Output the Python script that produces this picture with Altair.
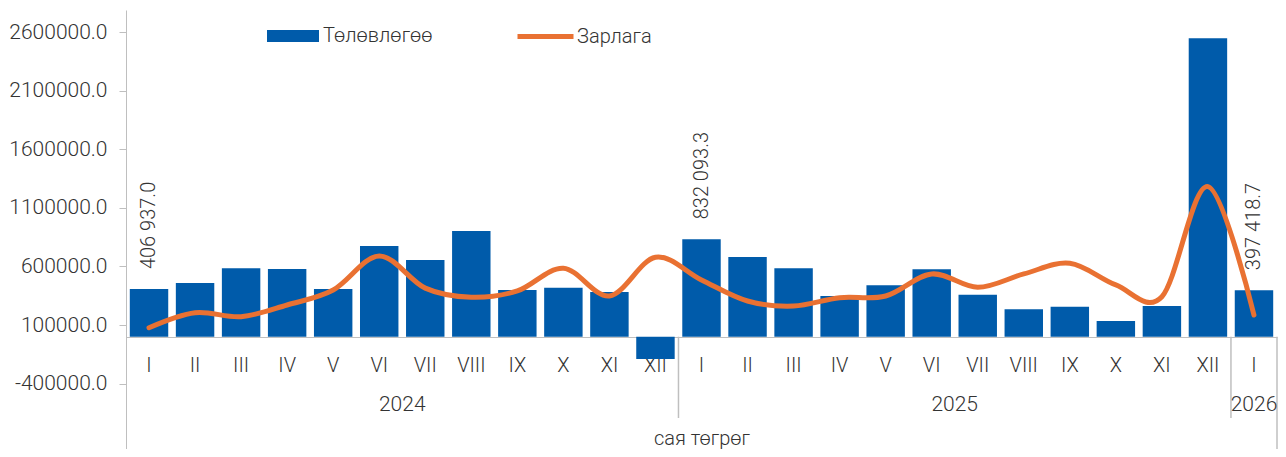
import altair as alt
import pandas as pd

# ---- data ----
years = ["2024"] * 12 + ["2025"] * 12 + ["2026"]
months = ["I", "II", "III", "IV", "V", "VI", "VII", "VIII", "IX", "X", "XI", "XII"] * 2 + ["I"]
plan = [406937.0, 459000, 584000, 579000, 408000, 775000, 656000, 903000, 399000, 419000, 382000, -191000,
        832093.3, 681000, 584000, 348000, 439000, 576000, 359000, 234000, 256000, 134000, 262000, 2550000,
        397418.7]
spend = [77000, 205000, 171000, 271000, 399000, 690000, 415000, 337000, 391000, 585000, 348000, 679000,
         485000, 305000, 262000, 333000, 348000, 536000, 422000, 536000, 627000, 442000, 342000, 1282000,
         185000]
labeled = [True] + [False] * 11 + [True] + [False] * 11 + [True]
series_names = ["Төлөвлөгөө", "Зарлага"]
y_ticks = [-400000, 100000, 600000, 1100000, 1600000, 2100000, 2600000]
year_names = ["2024", "2025", "2026"]
months_per_year = [12, 12, 1]
unit_title = "сая төгрөг"

# ---- styling ----
BLUE = "#005BAA"
ORANGE = "#E97132"
GRID = "#BFBFBF"
TEXT = "#333333"
FONT = "Roboto"
FW = 300
W, H = 1151, 439

keys = [f"{y}-{m}" for y, m in zip(years, months)]
df = pd.DataFrame({"key": keys, "month": months, "plan": plan, "spend": spend, "lab": labeled})
df["s1"] = series_names[0]
df["s2"] = series_names[1]

# year-level positions derived from months per year
starts, acc = [], 0
for n in months_per_year:
    starts.append(acc)
    acc += n
total = acc
year_df = pd.DataFrame({"c": [s + n / 2 for s, n in zip(starts, months_per_year)], "year": year_names})
sep_df = pd.DataFrame({"c": starts[1:]})
end_df = pd.DataFrame({"c": [total]})

yscale = alt.Scale(domain=[-959100, 2790470], nice=False, zero=False)
yaxis = alt.Axis(values=y_ticks, title=None, grid=False,
                 labelExpr="(datum.value < 0 ? '-' : '') + format(abs(datum.value), '.1f')",
                 tickSize=7, tickColor=GRID, domainColor=GRID, labelPadding=12,
                 labelFontSize=21, labelColor=TEXT, labelFont=FONT, labelFontWeight=FW)

xband = alt.X("key:N", sort=keys,
              scale=alt.Scale(paddingInner=0.165, paddingOuter=0.0825),
              axis=alt.Axis(title=None, labelExpr="split(datum.value, '-')[1]", labelAngle=0,
                            ticks=False, tickSize=0, domainColor=GRID, labelPadding=28,
                            labelBaseline="middle", labelOverlap=False, offset=-112,
                            labelFontSize=20, labelColor=TEXT, labelFont=FONT, labelFontWeight=FW))

base = alt.Chart(df)

bars = base.mark_bar().encode(
    x=xband,
    y=alt.Y("plan:Q", scale=yscale, axis=yaxis),
    fill=alt.Fill("s1:N", scale=alt.Scale(domain=[series_names[0]], range=[BLUE]),
                  legend=alt.Legend(title=None, orient="none", legendX=141, legendY=0,
                                    symbolType="M-1,-0.23H1V0.23H-1Z", symbolSize=2704,
                                    symbolStrokeWidth=0, labelOffset=4, labelFontSize=20,
                                    labelColor=TEXT, labelFont=FONT, labelFontWeight=FW)),
)

line = base.mark_line(interpolate="cardinal", strokeWidth=5, strokeCap="round").encode(
    x=xband,
    y=alt.Y("spend:Q", scale=yscale),
    stroke=alt.Stroke("s2:N", scale=alt.Scale(domain=[series_names[1]], range=[ORANGE]),
                      legend=alt.Legend(title=None, orient="none", legendX=389, legendY=-4,
                                        symbolType="stroke", symbolSize=3136, symbolStrokeWidth=5,
                                        labelOffset=1, labelFontSize=20, labelColor=TEXT,
                                        labelFont=FONT, labelFontWeight=FW)),
)

labels = base.transform_filter("datum.lab").transform_calculate(
    lbl="replace(format(datum.plan, ',.1f'), ',', ' ')"
).mark_text(angle=270, align="left", baseline="middle", dx=20, fontSize=20,
            color=TEXT, font=FONT, fontWeight=FW).encode(
    x=xband,
    y=alt.Y("plan:Q", scale=yscale),
    text="lbl:N",
)

main = alt.layer(bars, line, labels)

xq_scale = alt.Scale(domain=[0, total], nice=False, zero=False)
year_text = alt.Chart(year_df).mark_text(fontSize=21, color=TEXT, font=FONT, fontWeight=FW,
                                         baseline="middle").encode(
    x=alt.X("c:Q", scale=xq_scale,
            axis=alt.Axis(orient="bottom", title=unit_title, labels=False, ticks=False, domain=False,
                          grid=False, offset=-5, titlePadding=0, titleBaseline="alphabetic",
                          titleFontSize=20, titleColor=TEXT, titleFont=FONT, titleFontWeight=FW)),
    y=alt.value(395),
    text="year:N",
)
seps = alt.Chart(sep_df).mark_rule(color=GRID, strokeWidth=1.5).encode(
    x=alt.X("c:Q", scale=xq_scale),
    y=alt.datum(0),
    y2=alt.value(408),
)
end_rule = alt.Chart(end_df).mark_rule(color=GRID, strokeWidth=1.5).encode(
    x=alt.X("c:Q", scale=xq_scale),
    y=alt.datum(0),
    y2=alt.value(H),
)
years_layer = alt.layer(seps, end_rule, year_text)

chart = alt.layer(main, years_layer).resolve_scale(x="independent").properties(
    width=W, height=H,
    padding={"left": 118, "top": 2, "right": 1, "bottom": 0},
    autosize=alt.AutoSizeParams(type="none"),
).configure(font=FONT).configure_view(stroke=None)

chart.save("out.html", embed_options={"renderer": "svg", "actions": False})
